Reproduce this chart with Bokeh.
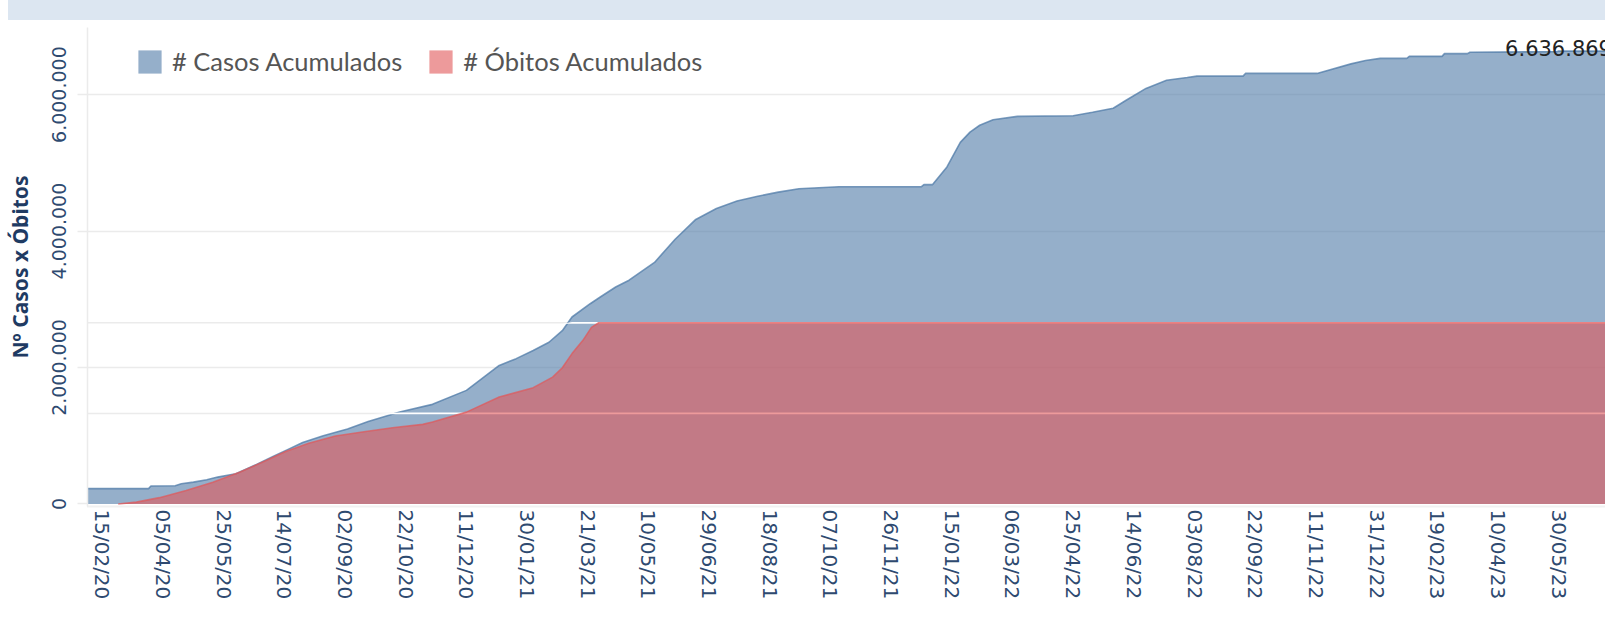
import numpy as np
import pandas as pd
from bokeh.plotting import figure
from bokeh.models import (Range1d, FixedTicker, Span, Legend, LegendItem, Div)
from bokeh.layouts import column
from bokeh.embed import file_html
from bokeh.resources import INLINE
from bokeh.core.properties import value

# ---------------- data ----------------
case_dates = [
    "2020-02-03", "2020-03-24", "2020-03-26", "2020-04-15", "2020-04-20", "2020-04-30",
    "2020-05-11", "2020-05-20", "2020-06-04", "2020-06-21", "2020-07-05", "2020-07-17",
    "2020-07-29", "2020-08-15", "2020-09-04", "2020-09-21", "2020-10-17", "2020-11-13",
    "2020-12-11", "2021-01-07", "2021-01-21", "2021-02-04", "2021-02-17", "2021-02-28",
    "2021-03-08", "2021-03-23", "2021-03-31", "2021-04-13", "2021-04-24", "2021-05-15",
    "2021-06-01", "2021-06-18", "2021-07-05", "2021-07-22", "2021-08-08", "2021-08-25",
    "2021-09-11", "2021-10-14", "2021-12-21", "2021-12-23", "2021-12-30", "2022-01-11",
    "2022-01-22", "2022-01-30", "2022-02-07", "2022-02-18", "2022-03-10", "2022-04-25",
    "2022-05-11", "2022-05-28", "2022-06-08", "2022-06-24", "2022-07-11", "2022-07-28",
    "2022-08-05", "2022-09-12", "2022-09-14", "2022-11-12", "2022-12-10", "2022-12-22",
    "2023-01-03", "2023-01-25", "2023-01-27", "2023-02-23", "2023-02-25", "2023-03-16",
    "2023-03-18", "2023-05-29", "2023-05-30", "2023-07-20",
]
case_values = [
    225000, 225000, 263000, 268000, 297000, 320000,
    356000, 394000, 444000, 580000, 700000, 800000,
    900000, 1000000, 1100000, 1210000, 1347000, 1460000,
    1665000, 2030000, 2130000, 2250000, 2370000, 2540000,
    2740000, 2935000, 3030000, 3180000, 3280000, 3540000,
    3880000, 4170000, 4330000, 4440000, 4510000, 4570000,
    4620000, 4650000, 4650000, 4680000, 4680000, 4940000,
    5300000, 5450000, 5550000, 5630000, 5680000, 5690000,
    5740000, 5800000, 5920000, 6090000, 6210000, 6250000,
    6270000, 6270000, 6310000, 6310000, 6450000, 6500000,
    6530000, 6530000, 6560000, 6560000, 6600000, 6600000,
    6620000, 6630000, 6636869, 6636869,
]

death_dates = [
    "2020-02-28", "2020-03-14", "2020-04-02", "2020-04-24", "2020-05-16", "2020-06-07",
    "2020-06-29", "2020-07-15", "2020-08-03", "2020-08-25", "2020-09-19", "2020-10-11",
    "2020-11-05", "2020-11-13", "2020-12-11", "2021-01-07", "2021-02-04", "2021-02-20",
    "2021-02-28", "2021-03-08", "2021-03-17", "2021-03-24", "2021-03-30", "2023-07-20",
]
death_values = [
    0, 2100, 7000, 15000, 24000, 35000,
    48000, 58000, 67000, 75000, 80100, 84200,
    87900, 90400, 101400, 118000, 128400, 140000,
    150400, 166000, 180600, 195000, 200000, 200000,
]

x_tick_labels = [
    "15/02/20", "05/04/20", "25/05/20", "14/07/20", "02/09/20", "22/10/20", "11/12/20",
    "30/01/21", "21/03/21", "10/05/21", "29/06/21", "18/08/21", "07/10/21", "26/11/21",
    "15/01/22", "06/03/22", "25/04/22", "14/06/22", "03/08/22", "22/09/22", "11/11/22",
    "31/12/22", "19/02/23", "10/04/23", "30/05/23",
]
y_tick_values = [0, 2000000, 4000000, 6000000]
y_tick_labels = ["0", "2.000.000", "4.000.000", "6.000.000"]
death_grid_values = [100000, 200000]
legend_labels = ["# Casos Acumulados", "# Óbitos Acumulados"]
y_axis_title = "Nº Casos x Óbitos"

# ---------------- styling / layout ----------------
BLUE = "#4e79a7"
RED = "#e15759"
NAVY = "#2e4a70"
GRID = "#ebebeb"

cx = pd.to_datetime(case_dates)
dx = pd.to_datetime(death_dates)
cv = np.array(case_values, dtype=float)
dv = np.array(death_values, dtype=float)

case_range = Range1d(-37000, 6983000)
death_range = Range1d(-2760, 525900)
x_range = Range1d(pd.Timestamp("2020-02-02 17:00"), pd.Timestamp("2023-07-07 17:00"))

p = figure(width=1605, height=606, x_axis_type="datetime",
           x_range=x_range, y_range=case_range,
           output_backend="svg", toolbar_location=None,
           min_border_left=87, min_border_right=0, min_border_top=7,
           min_border_bottom=120)
p.extra_y_ranges = {"deaths": death_range}
p.outline_line_color = None
p.background_fill_color = "white"
p.border_fill_color = "white"

# grid
p.xgrid.grid_line_color = None
p.ygrid.grid_line_color = GRID
p.ygrid.grid_line_width = 1.5
p.ygrid.ticker = FixedTicker(ticks=y_tick_values[1:])
for lv in death_grid_values:
    p.add_layout(Span(location=lv, dimension="width", y_range_name="deaths",
                      line_color=GRID, line_width=1.5, level="underlay"))

# blue area (cases)
blue_area = p.varea(x=cx, y1=0, y2=cv, fill_color=BLUE, fill_alpha=0.6)
p.line(x=cx, y=cv, line_color=BLUE, line_alpha=0.75, line_width=1.6)

# white separator lines at the deaths grid levels, visible inside the blue area
span_c = case_range.end - case_range.start
span_d = death_range.end - death_range.start
half = span_c / 479.0 * 0.9
for lv in death_grid_values:
    lc = case_range.start + (lv - death_range.start) * span_c / span_d
    p.varea(x=cx, y1=lc - half, y2=np.clip(cv, lc - half, lc + half),
            fill_color="white", fill_alpha=1.0)

# red area (deaths)
red_area = p.varea(x=dx, y1=0, y2=dv, fill_color=RED, fill_alpha=0.6,
                   y_range_name="deaths")
p.line(x=dx, y=dv, line_color=RED, line_alpha=0.7, line_width=1.6,
       y_range_name="deaths")

# label at the maximum
imax = int(np.argmax(cv))
p.text(x=[cx[imax]], y=[cv[imax]], text=[f"{int(cv[imax]):,}".replace(",", ".")],
       text_align="center", text_baseline="alphabetic", y_offset=-3,
       text_font=value("DejaVu Sans"), text_font_size="21px", text_color="#222222")

# axes
xa = p.xaxis[0]
xt = [pd.to_datetime(s, format="%d/%m/%y") for s in x_tick_labels]
xt_ms = [float(t.value // 10**6) for t in xt]
xa.ticker = FixedTicker(ticks=xt_ms)
xa.major_label_overrides = {k: s for k, s in zip(xt_ms, x_tick_labels)}
xa.major_label_orientation = "vertical"
xa.major_label_text_font = "DejaVu Sans"
xa.major_label_text_font_size = "20px"
xa.major_label_text_color = NAVY
xa.major_label_standoff = 3
xa.axis_line_color = "#e3e3e3"
xa.axis_line_width = 2
xa.axis_line_dash = "1 1"
xa.major_tick_line_color = None
xa.major_tick_out = 0
xa.major_tick_in = 0
xa.minor_tick_line_color = None

ya = p.yaxis[0]
ya.ticker = FixedTicker(ticks=y_tick_values)
ya.major_label_overrides = {k: s for k, s in zip(y_tick_values, y_tick_labels)}
ya.major_label_orientation = "vertical"
ya.major_label_text_font = "DejaVu Sans"
ya.major_label_text_font_size = "19px"
ya.major_label_text_color = NAVY
ya.major_label_standoff = 11
ya.axis_line_color = GRID
ya.axis_line_width = 1.5
ya.major_tick_out = 10
ya.major_tick_in = 0
ya.major_tick_line_color = GRID
ya.major_tick_line_width = 1.5
ya.minor_tick_line_color = None
ya.axis_label = y_axis_title
ya.axis_label_text_font = "Noto Sans"
ya.axis_label_text_font_style = "bold"
ya.axis_label_text_font_size = "21px"
ya.axis_label_text_color = "#1f3b63"
ya.axis_label_standoff = 16

legend = Legend(items=[LegendItem(label=legend_labels[0], renderers=[blue_area]),
                       LegendItem(label=legend_labels[1], renderers=[red_area])],
                orientation="horizontal", location=(48, 430),
                glyph_width=29, glyph_height=29, label_standoff=8, spacing=24,
                padding=0, margin=0, border_line_alpha=0, background_fill_alpha=0,
                label_text_font="Lato", label_text_font_size="25.5px",
                label_text_color="#555555", label_height=29)
p.add_layout(legend)

band = Div(text="", width=1597, height=20, margin=(0, 0, 0, 8),
           styles={"background-color": "#dce6f1"})
layout = column(band, p, spacing=0)

open("out.html", "w").write(file_html(layout, INLINE))
